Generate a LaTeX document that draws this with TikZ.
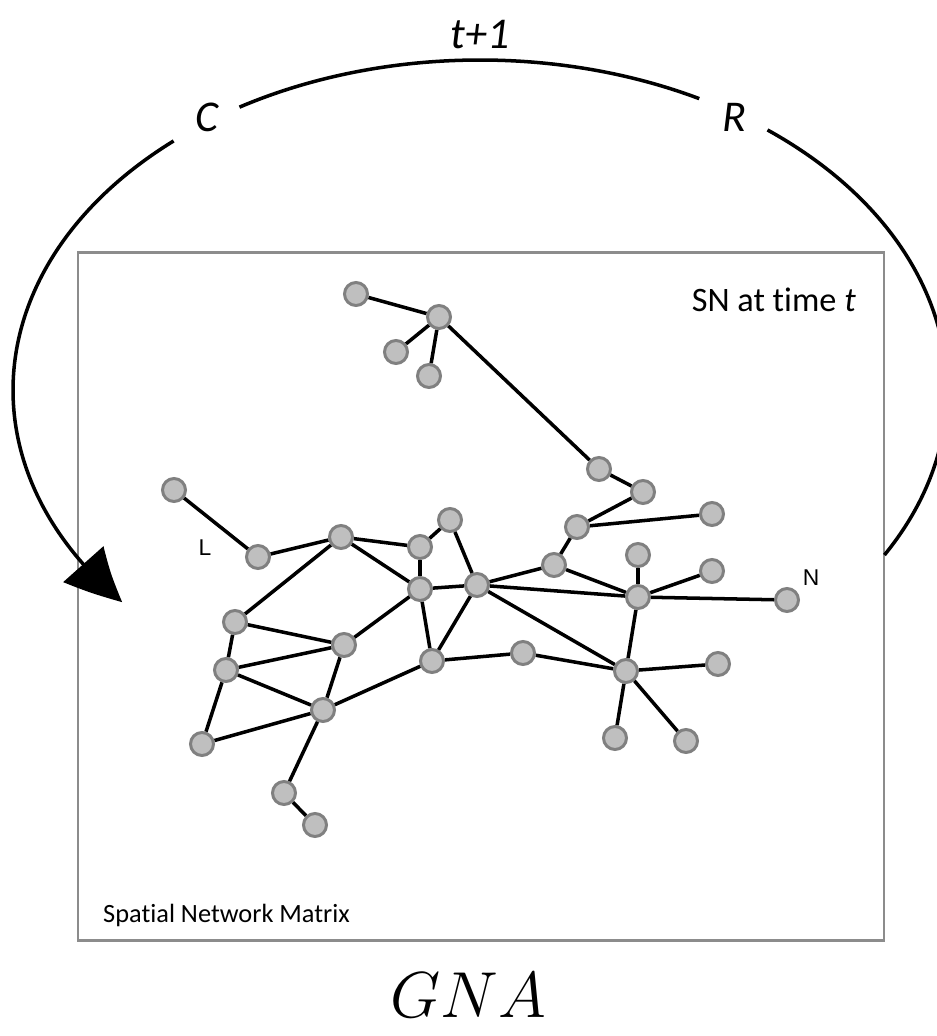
\RequirePackage{fix-cm}
\documentclass[tikz,border=0pt]{standalone}
\usepackage{fontspec}
\setmainfont{Carlito}[Ligatures=NoCommon]
\newfontfamily\arialfont{Liberation Sans}
\usetikzlibrary{arrows.meta,bending}

\tikzset{
  vertex/.style={circle,draw=gray,fill=gray!50,line width=1.7pt,minimum size=0.46cm,inner sep=0pt},
  edgeline/.style={line width=2pt},
  cycleline/.style={line width=2pt},
  steplabel/.style={font=\fontsize{25}{28}\selectfont\itshape},
}

\begin{document}
\begin{tikzpicture}[x=0.02cm,y=-0.02cm]
  \useasboundingbox (0,0) rectangle (937,1036);

  % frame of the matrix
  \draw[gray!90,line width=1.7pt] (78,252) rectangle (884,940);
  \node[anchor=west,font=\fontsize{15}{17}\selectfont] (matrix) at (97,915) {Spatial Network Matrix};
  \node[anchor=east,font=\fontsize{19.5}{22}\selectfont] (snlabel) at (862,300) {SN at time \textit{t}};

  % vertices
  \foreach \name/\x/\y in {v1/356/294,v2/439/317,v3/396/352,v4/429/376,
      v5/599/469,v6/643/492,v7/577/527,v8/712/514,v9/554/565,v10/638/555,
      v11/712/571,v12/638/597,v13/787/600,v14/523/653,v15/626/671,v16/718/664,
      v17/615/738,v18/686/741,v19/174/490,v20/258/557,v21/341/537,v22/420/547,
      v23/450/520,v24/420/589,v25/477/585,v26/235/622,v27/344/645,v28/226/670,
      v29/432/661,v30/323/710,v31/202/744,v32/284/793,v33/315/825}
    \node[vertex] (\name) at (\x,\y) {};

  % links
  \foreach \a/\b in {v1/v2,v2/v3,v2/v4,v2/v5,v5/v6,v6/v7,v7/v8,v7/v9,
      v9/v25,v9/v12,v10/v12,v11/v12,v12/v13,v12/v15,v25/v12,v25/v15,
      v15/v14,v15/v16,v15/v17,v15/v18,v14/v29,v29/v25,v29/v24,v24/v25,
      v24/v22,v22/v23,v23/v25,v22/v21,v21/v24,v21/v20,v20/v19,v21/v26,
      v26/v27,v26/v28,v28/v27,v27/v24,v27/v30,v28/v30,v28/v31,v31/v30,
      v30/v29,v30/v32,v32/v33}
    \draw[edgeline] (\a) -- (\b);

  \node[font=\arialfont\fontsize{13}{15}\selectfont] (lname) at (205,548) {L};
  \node[font=\arialfont\fontsize{13}{15}\selectfont] (nname) at (811,578) {N};

  % update cycle around the matrix
  \coordinate (hub) at (480,390);
  \draw[cycleline] (hub) ++(30:467 and 330)
    arc[start angle=30,end angle=-52,x radius=467,y radius=330];
  \draw[cycleline] (hub) ++(-62:467 and 330)
    arc[start angle=-62,end angle=-121,x radius=467,y radius=330];
  \draw[cycleline,-{Triangle[length=1.12cm,width=1.06cm,bend]}] (hub) ++(-131:467 and 330)
    arc[start angle=-131,end angle=-220,x radius=467,y radius=330];

  \node[steplabel] (tnext) at (480,35) {t+1};
  \node[steplabel] (cstep) at (207,117) {C};
  \node[steplabel] (rstep) at (734,117) {R};

  \node[font=\fontsize{37}{40}\selectfont] (gna) at (468,995) {$GNA$};
\end{tikzpicture}
\end{document}
